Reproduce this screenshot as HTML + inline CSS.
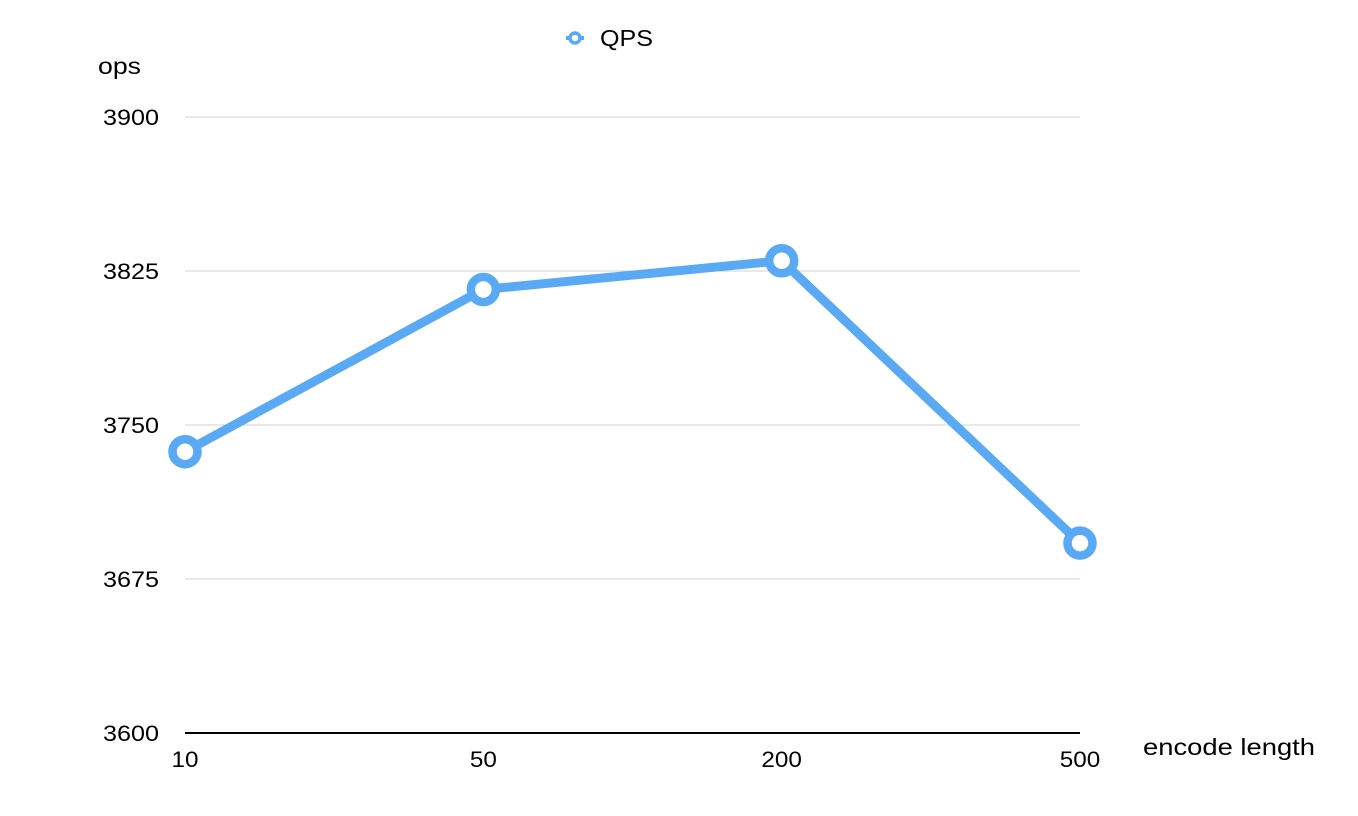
<!DOCTYPE html>
<html><head><meta charset="utf-8"><style>
html,body{margin:0;padding:0;background:#fff;}
svg{display:block;font-family:"Liberation Sans",sans-serif;}
</style></head><body>
<svg id="chart" width="1358" height="816" viewBox="0 0 1358 816">
<g id="legend">
  <line x1="566" y1="38" x2="584" y2="38" stroke="#59a9f4" stroke-width="4"/>
  <circle cx="575" cy="38" r="5" fill="#fff" stroke="#59a9f4" stroke-width="3.5"/>
  <text x="600" y="46" font-size="23" textLength="53" lengthAdjust="spacingAndGlyphs" fill="#000">QPS</text>
</g>
<text x="98" y="74" font-size="23" textLength="43" lengthAdjust="spacingAndGlyphs" fill="#000">ops</text>
<text x="1143" y="755" font-size="23" textLength="172" lengthAdjust="spacingAndGlyphs" fill="#000">encode length</text>
<g id="grid"></g>
<g id="yticks"></g>
<g id="xticks"></g>
<g id="series"></g>
</svg>
<script>
const categories = ["10","50","200","500"];
const qpsValues = [3737, 3816, 3830, 3692.5];
const yTicks = [3600, 3675, 3750, 3825, 3900];

const NS = "http://www.w3.org/2000/svg";
const x0 = 185, x1 = 1080, yTop = 117, yBot = 733, yMin = 3600, yMax = 3900;
function xScale(i){ return x0 + i*(x1-x0)/(categories.length-1); }
function yScale(v){ return yBot - (v-yMin)/(yMax-yMin)*(yBot-yTop); }
function mk(tag, attrs, parent){ const e=document.createElementNS(NS,tag); for(const k in attrs) e.setAttribute(k,attrs[k]); parent.appendChild(e); return e; }

const grid = document.getElementById('grid');
const yt = document.getElementById('yticks');
yTicks.forEach(v=>{
  const y = yScale(v);
  const l = mk('line',{x1:185,x2:1080,y1:y,y2:y,stroke: v===yMin?'#000':'#d0d0d0','stroke-width': v===yMin?2:1},grid);
  
  
  const t = mk('text',{x:159,y:y+8,'font-size':22,'text-anchor':'end',textLength:56,lengthAdjust:'spacingAndGlyphs',fill:'#000'},yt);
  t.textContent = v;
  
  
});
const xt = document.getElementById('xticks');
categories.forEach((c,i)=>{
  const t = mk('text',{x:xScale(i),y:767,'font-size':22,'text-anchor':'middle',textLength:13.5*c.length,lengthAdjust:'spacingAndGlyphs',fill:'#000'},xt);
  t.textContent = c;
  
  
});
const s = document.getElementById('series');
const pts = qpsValues.map((v,i)=>xScale(i)+','+yScale(v)).join(' ');
const pl = mk('polyline',{points:pts,fill:'none',stroke:'#59a9f4','stroke-width':9,'stroke-linejoin':'round'},s);


qpsValues.forEach((v,i)=>{
  const c = mk('circle',{cx:xScale(i),cy:yScale(v),r:12.5,fill:'#fff',stroke:'#59a9f4','stroke-width':8.5},s);
  
  
});
</script>
</body></html>
